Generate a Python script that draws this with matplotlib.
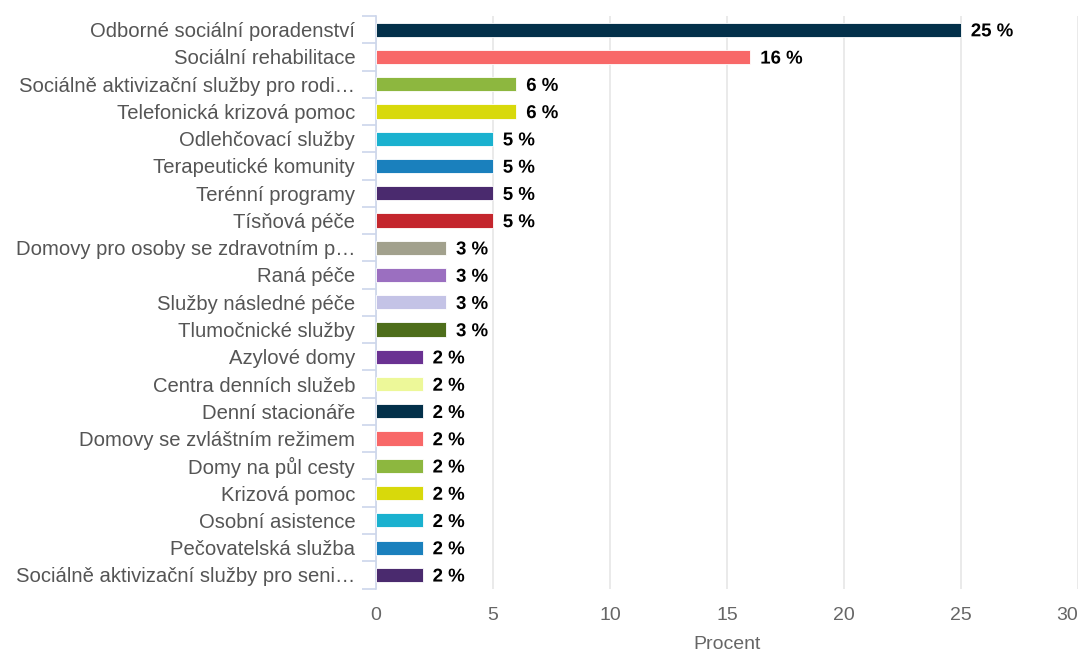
import matplotlib
matplotlib.use("Agg")
import matplotlib.pyplot as plt
import matplotlib.patheffects as pe
import numpy as np

categories = [
    "Odborné sociální poradenství",
    "Sociální rehabilitace",
    "Sociálně aktivizační služby pro rodi…",
    "Telefonická krizová pomoc",
    "Odlehčovací služby",
    "Terapeutické komunity",
    "Terénní programy",
    "Tísňová péče",
    "Domovy pro osoby se zdravotním p…",
    "Raná péče",
    "Služby následné péče",
    "Tlumočnické služby",
    "Azylové domy",
    "Centra denních služeb",
    "Denní stacionáře",
    "Domovy se zvláštním režimem",
    "Domy na půl cesty",
    "Krizová pomoc",
    "Osobní asistence",
    "Pečovatelská služba",
    "Sociálně aktivizační služby pro seni…",
]
values = [25, 16, 6, 6, 5, 5, 5, 5, 3, 3, 3, 3, 2, 2, 2, 2, 2, 2, 2, 2, 2]
colors = [
    "#03304a", "#f86868", "#8db73f", "#d8d90b", "#1ab1cf", "#1a80bd",
    "#4a2a6e", "#c4262d", "#a2a18d", "#9b6fc0", "#c4c3e6", "#4e6e1b",
    "#6a3192", "#edf899", "#03304a", "#f86868", "#8db73f", "#d8d90b",
    "#1ab1cf", "#1a80bd", "#4a2a6e",
]
xticks = [0, 5, 10, 15, 20, 25, 30]

plt.rcParams["font.family"] = ["Liberation Sans", "DejaVu Sans"]

W, H = 1082, 653
x0, x1, ytop, ybot = 376, 1078, 16, 588.5

fig = plt.figure(figsize=(W / 100, H / 100), dpi=100)
ax = fig.add_axes([x0 / W, 1 - ybot / H, (x1 - x0) / W, (ybot - ytop) / H])

n = len(categories)
y = np.arange(n)
ax.barh(y, values, height=0.52, color=colors, edgecolor="white", linewidth=0.6, zorder=3)

for yi, v in zip(y, values):
    ax.text(v + 0.42, yi + 0.08, f"{v} %", va="center", ha="left", fontsize=13.4,
            fontweight="bold", color="#000000", zorder=4,
            path_effects=[pe.withStroke(linewidth=2, foreground="white")])

ax.set_xlim(0, 30)
ax.set_ylim(n - 0.5, -0.5)
ax.set_xticks(xticks)
ax.set_xticklabels([str(t) for t in xticks], fontsize=14, color="#666666")
ax.tick_params(axis="x", length=0, pad=13)
ax.get_xticklabels()[-1].set_horizontalalignment("right")
ax.grid(axis="x", color="#e6e6e6", linewidth=1.2, zorder=0)

ax.set_yticks(y)
ax.set_yticklabels(categories, fontsize=14.6, color="#555555")
ax.tick_params(axis="y", length=0, pad=15)
for lbl in ax.get_yticklabels():
    lbl.set_verticalalignment("center_baseline")
# boundary ticks between categories
ax.set_yticks(np.arange(-0.5, n, 1.0), minor=True)
ax.tick_params(axis="y", which="minor", length=10, width=1.2, color="#ccd6eb")

for s in ["top", "right", "bottom"]:
    ax.spines[s].set_visible(False)
ax.spines["left"].set_color("#ccd6eb")
ax.spines["left"].set_linewidth(1.2)

ax.set_xlabel("Procent", fontsize=14, color="#666666", labelpad=9)

fig.savefig("out.png", dpi=100, facecolor="white")
